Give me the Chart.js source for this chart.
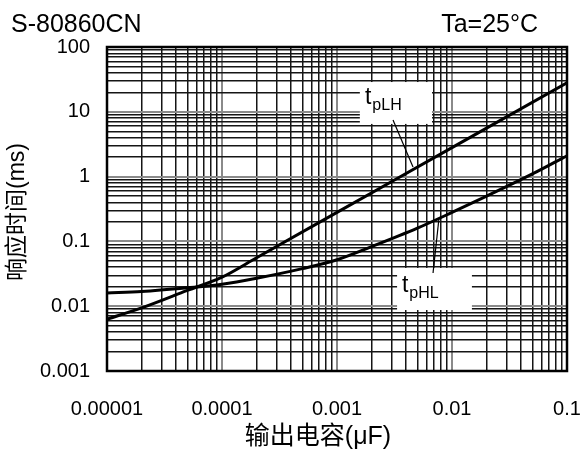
<!DOCTYPE html>
<html>
<head>
<meta charset="utf-8">
<script src="https://cdn.jsdelivr.net/npm/chart.js@4"></script>
<style>
  body { margin: 0; background: #fff; }
  #wrap { width: 584px; height: 450px; }
</style>
</head>
<body>
<div id="wrap"><canvas id="respChart" width="584" height="450"></canvas></div>
<script>

// 输出电容 (uF) sample points
const capLH = [0.00001, 0.00002, 0.00005, 0.0001, 0.0002, 0.001, 0.01, 0.1];
const tpLH  = [0.0063, 0.0094, 0.0175, 0.028, 0.056, 0.28, 2.8, 28];

const capHL = [0.00001, 0.00002, 0.00005, 0.0001, 0.0002, 0.0005, 0.001, 0.002, 0.005, 0.01, 0.02, 0.05, 0.1];
const tpHL  = [0.016, 0.0168, 0.0192, 0.0218, 0.027, 0.038, 0.052, 0.083, 0.16, 0.28, 0.5, 1.1, 2.1];

const xDecades = [0.00001, 0.0001, 0.001, 0.01, 0.1];
const xTickLabels = ['0.00001', '0.0001', '0.001', '0.01', '0.1'];
const yDecades = [0.001, 0.01, 0.1, 1, 10, 100];
const yTickLabels = ['0.001', '0.01', '0.1', '1', '10', '100'];

const FONT = "'Liberation Sans', Arial, 'Noto Sans CJK SC', sans-serif";

// labels next to the curves, in data coordinates
const notes = [
  { main: 't', sub: 'pLH', box: [0.00158, 28.8, 0.0067, 6.5], text: [0.00175, 13.2], lead: [0.00307, 7.47, 0.00458, 1.41] },
  { main: 't', sub: 'pHL', box: [0.00333, 0.0389, 0.0149, 0.00873], text: [0.00367, 0.01656], lead: [0.00684, 0.0325, 0.00771, 0.23] }
];

function gridValues(decades){
  const vals = [];
  decades.forEach((d, i) => {
    if (i === decades.length - 1) { vals.push(d); return; }
    for (let k = 1; k <= 9; k++) vals.push(+(d * k).toPrecision(3));
  });
  return vals;
}

function isDecade(v){
  const l = Math.log10(v);
  return Math.abs(l - Math.round(l)) < 1e-6;
}

function toPoints(xs, ys){
  return xs.map((x, i) => ({ x: x, y: ys[i] }));
}

function gridColor(ctx){
  return ctx.tick && isDecade(ctx.tick.value) ? '#8a8a8a' : '#151515';
}
function gridWidth(ctx){
  return ctx.tick && isDecade(ctx.tick.value) ? 2 : 1.5;
}

const decorPlugin = {
  id: 'decor',
  afterDatasetsDraw(chart){
    const c = chart.ctx;
    const xs = chart.scales.x;
    const ys = chart.scales.y;
    const area = chart.chartArea;
    c.save();

    notes.forEach(n => {
      const x1 = xs.getPixelForValue(n.box[0]);
      const y1 = ys.getPixelForValue(n.box[1]);
      const x2 = xs.getPixelForValue(n.box[2]);
      const y2 = ys.getPixelForValue(n.box[3]);
      c.fillStyle = '#fff';
      c.fillRect(x1, y1, x2 - x1, y2 - y1);

      c.strokeStyle = '#000';
      c.lineWidth = 1.2;
      c.beginPath();
      c.moveTo(xs.getPixelForValue(n.lead[0]), ys.getPixelForValue(n.lead[1]));
      c.lineTo(xs.getPixelForValue(n.lead[2]), ys.getPixelForValue(n.lead[3]));
      c.stroke();

      const tx = xs.getPixelForValue(n.text[0]);
      const ty = ys.getPixelForValue(n.text[1]);
      c.fillStyle = '#000';
      c.textBaseline = 'alphabetic';
      c.textAlign = 'left';
      c.font = '23px ' + FONT;
      c.fillText(n.main, tx, ty);
      const w = c.measureText(n.main).width;
      c.font = '16px ' + FONT;
      c.fillText(n.sub, tx + w + 1, ty + 6);
    });

    // frame
    c.strokeStyle = '#000';
    c.lineWidth = 2.5;
    c.strokeRect(area.left, area.top, area.right - area.left, area.bottom - area.top);

    // header texts
    c.fillStyle = '#000';
    c.font = '25px ' + FONT;
    c.textBaseline = 'alphabetic';
    c.textAlign = 'left';
    c.fillText('S-80860CN', 11, 32);
    c.textAlign = 'right';
    c.fillText('Ta=25°C', 538, 32);

    // axis titles
    c.font = '25px ' + FONT;
    c.textAlign = 'center';
    c.textBaseline = 'middle';
    c.fillText('输出电容(μF)', 318, 437);

    c.font = '23px ' + FONT;
    c.save();
    c.translate(18, 212);
    c.rotate(-Math.PI / 2);
    c.fillText('响应时间(ms)', 0, 0);
    c.restore();

    c.restore();
  }
};

function loadChart(){

  const ctx = document.getElementById('respChart');

  new Chart(ctx, {

    type: 'line',

    data: {
      datasets: [
        {
          label: 'tpLH',
          data: toPoints(capLH, tpLH),
          borderColor: '#000',
          borderWidth: 3,
          pointRadius: 0,
          fill: false,
          cubicInterpolationMode: 'monotone'
        },
        {
          label: 'tpHL',
          data: toPoints(capHL, tpHL),
          borderColor: '#000',
          borderWidth: 3,
          pointRadius: 0,
          fill: false,
          cubicInterpolationMode: 'monotone'
        }
      ]
    },

    options: {
      responsive: false,
      animation: false,
      devicePixelRatio: 1,
      layout: { padding: { top: 47, right: 17, left: 0, bottom: 0 } },
      plugins: {
        legend: { display: false },
        tooltip: { enabled: false },
        title: { display: false }
      },
      scales: {
        x: {
          type: 'logarithmic',
          min: 0.00001,
          max: 0.1,
          border: { display: false },
          grid: { color: gridColor, lineWidth: gridWidth, drawTicks: false },
          afterBuildTicks(scale){
            scale.ticks = gridValues(xDecades).map(v => ({ value: v }));
          },
          afterFit(scale){
            scale.height = 79;
            scale.paddingLeft = 0;
            scale.paddingRight = 0;
          },
          ticks: {
            autoSkip: false,
            maxRotation: 0,
            padding: 26,
            color: '#000',
            font: { family: FONT, size: 20 },
            callback(value){
              const i = xDecades.findIndex(d => Math.abs(d - value) / d < 1e-6);
              return i >= 0 ? xTickLabels[i] : '';
            }
          }
        },
        y: {
          type: 'logarithmic',
          min: 0.001,
          max: 100,
          border: { display: false },
          grid: { color: gridColor, lineWidth: gridWidth, drawTicks: false },
          afterBuildTicks(scale){
            scale.ticks = gridValues(yDecades).map(v => ({ value: v }));
          },
          afterFit(scale){
            scale.width = 107;
            scale.paddingTop = 0;
            scale.paddingBottom = 0;
          },
          ticks: {
            autoSkip: false,
            padding: 17,
            color: '#000',
            font: { family: FONT, size: 20 },
            callback(value){
              const i = yDecades.findIndex(d => Math.abs(d - value) / d < 1e-6);
              return i >= 0 ? yTickLabels[i] : '';
            }
          }
        }
      }
    },

    plugins: [decorPlugin]

  });

}

loadChart();

</script>
</body>
</html>
